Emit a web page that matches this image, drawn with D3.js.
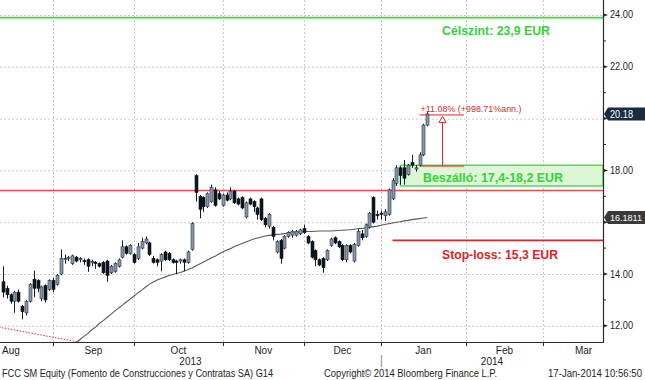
<!DOCTYPE html>
<html><head><meta charset="utf-8">
<script src="https://cdn.jsdelivr.net/npm/d3@7"></script>
<style>
html,body{margin:0;padding:0;background:#fff;}
svg{display:block;font-family:"Liberation Sans",Arial,sans-serif;}
</style></head><body>
<svg id="chart" width="645" height="380"></svg>
<script>
// ---------------- DATA ----------------
const firstCandleDate = "2013-08-13";
const openP = [13.7,13.45,13.2,12.95,13.3,12.75,12.5,12.95,13.8,13.75,
13.05,13.55,13.4,13.75,13.6,14.0,14.55,14.6,14.4,14.65,
14.55,14.52,14.55,14.45,14.45,14.4,14.45,14.5,14.05,14.1,
14.3,14.65,15.05,14.8,14.75,14.6,15.0,15.2,15.2,14.6,
14.55,14.5,14.85,14.8,14.55,14.5,14.5,14.55,14.45,14.95,
17.8,17.0,16.95,16.6,16.8,17.25,17.1,16.65,17.05,16.9,
17.2,16.9,16.95,16.2,16.9,16.8,16.55,16.9,16.15,15.85,
15.8,14.85,15.3,15.0,15.45,15.5,15.5,15.55,15.75,15.45,
15.25,14.9,14.55,14.6,14.55,15.1,15.4,15.25,15.1,14.55,
15.1,14.5,15.1,15.55,15.45,15.8,16.95,16.3,16.35,16.25,
16.3,16.9,17.5,18.1,18.1,17.85,18.3,18.05,18.2,18.6,19.75];
const highP = [14.3,13.55,13.25,13.35,13.4,12.8,13.0,13.65,14.13,13.8,
13.55,13.6,13.8,13.85,14.0,14.95,14.75,14.7,14.75,14.7,
14.65,14.6,14.6,14.55,14.5,14.45,14.5,14.55,14.35,14.45,
14.6,15.3,15.1,15.15,14.8,15.2,15.4,15.45,15.25,14.7,
14.6,14.8,14.9,14.85,14.6,14.55,14.6,14.6,14.9,16.0,
17.85,17.05,17.0,17.15,17.45,17.35,17.2,17.1,17.15,17.35,
17.25,16.95,17.0,16.8,16.95,16.85,16.6,16.95,16.2,16.35,
15.85,15.3,15.35,15.5,15.65,15.7,15.7,15.75,15.9,15.5,
15.3,14.95,14.6,14.65,14.95,15.4,15.45,15.3,15.15,15.15,
15.15,15.2,15.75,15.7,15.95,16.4,17.0,16.45,16.45,16.5,
17.3,17.7,18.2,18.15,18.4,18.25,18.6,18.2,18.7,19.8,20.25];
const lowP = [13.1,13.05,12.85,12.5,12.9,12.25,12.4,12.9,13.1,13.3,
12.95,12.9,13.35,13.3,13.55,13.95,14.4,14.5,14.35,14.45,
14.45,14.35,14.08,14.3,14.2,14.25,14.0,13.7,14.0,14.05,
14.25,14.6,14.75,14.75,14.4,14.55,14.95,15.15,14.7,14.4,
14.3,14.1,14.5,14.5,14.4,14.0,14.4,14.1,14.4,14.9,
16.8,16.15,16.4,16.55,16.75,16.6,16.85,16.6,16.8,16.85,
16.7,16.65,16.5,16.15,16.65,16.4,16.1,16.05,15.8,15.75,
15.3,14.8,14.4,14.95,15.4,15.4,15.45,15.5,15.55,15.15,
14.6,14.3,14.3,14.05,14.5,15.05,15.15,15.0,14.5,14.45,
14.8,14.45,15.05,15.3,15.4,15.75,15.95,16.1,16.1,16.05,
16.25,16.85,17.4,17.45,17.45,17.8,18.1,17.95,18.15,18.55,19.7];
const closeP = [13.3,13.2,12.95,13.3,12.95,12.55,12.95,13.6,13.45,13.45,
13.5,13.0,13.75,13.4,13.95,14.6,14.6,14.65,14.7,14.5,
14.6,14.5,14.3,14.48,14.4,14.3,14.05,13.95,14.3,14.4,
14.55,15.05,14.8,15.1,14.45,15.05,15.25,15.35,14.75,14.45,
14.45,14.75,14.55,14.55,14.45,14.45,14.55,14.45,14.85,15.95,
17.15,16.5,16.6,17.1,17.35,16.65,16.9,17.05,16.85,17.2,
16.75,16.7,16.55,16.75,16.7,16.6,16.3,16.1,15.9,16.3,
15.45,15.25,14.6,15.45,15.6,15.65,15.65,15.7,15.6,15.2,
14.65,14.55,14.35,14.25,14.9,15.35,15.2,15.05,14.55,15.1,
14.85,15.15,15.65,15.4,15.9,16.35,16.0,16.25,16.3,16.4,
17.25,17.6,18.1,17.8,17.7,18.2,18.2,18.1,18.6,19.75,20.18];

const maStartDate = "2013-09-09";
const maValues = [11.35,11.47,11.59,11.70,11.84,11.95,12.09,12.20,12.32,12.44,
12.57,12.69,12.80,12.92,13.03,13.15,13.27,13.38,13.50,13.61,
13.69,13.77,13.83,13.88,13.94,13.98,14.02,14.06,14.12,14.17,
14.23,14.31,14.39,14.46,14.54,14.62,14.69,14.77,14.85,14.93,
14.98,15.06,15.12,15.18,15.24,15.29,15.35,15.39,15.43,15.47,
15.49,15.51,15.53,15.54,15.56,15.58,15.60,15.61,15.62,15.63,
15.64,15.64,15.65,15.66,15.66,15.66,15.66,15.67,15.68,15.69,
15.70,15.71,15.73,15.75,15.76,15.78,15.81,15.83,15.85,15.88,
15.91,15.94,15.97,16.00,16.02,16.05,16.07,16.10,16.12,16.14,
16.16,16.18];

const trendDates = ["2013-08-12","2013-09-10"];
const trendValues = [11.95,11.36];

const yTicksMajor = [12,14,16,18,20,22,24];
const yTicksMinor = [13,15,17,19,21,23];
const monthNames = ["Aug","Sep","Oct","Nov","Dec","Jan","Feb","Mar","Apr"];
const monthStarts = ["2013-08","2013-09","2013-10","2013-11","2013-12","2014-01","2014-02","2014-03","2014-04"];
const yearLabels = ["2013","2014"];
const holidays = ["2013-12-25","2013-12-26","2014-01-01"];

const targetLevel = 23.9;
const entryLow = 17.4, entryHigh = 18.2;
const stopLevel = 15.3;
const resistanceLevel = 17.22;
const lastPrice = 20.18;
const maLast = 16.1811;
const gainPct = 11.08, gainAnn = 998.71;
const boxStartDate = "2014-01-08";
const stopStartDate = "2014-01-06";
const annStartDate = "2014-01-15";
const annEndDate = "2014-01-30";

const labelTarget = "Célszint: 23,9 EUR";
const labelEntry = "Beszálló: 17,4-18,2 EUR";
const labelStop = "Stop-loss: 15,3 EUR";
const footerLeft = "FCC SM Equity (Fomento de Construcciones y Contratas SA) G14";
const footerMid = "Copyright\u00a9 2014 Bloomberg Finance L.P.";
const footerRight = "17-Jan-2014 10:56:50";

// ---------------- TRADING CALENDAR ----------------
const fmt = d3.utcFormat("%Y-%m-%d");
const days = d3.utcDay.range(new Date(Date.UTC(2013,7,1)), new Date(Date.UTC(2014,4,1)))
  .filter(d => d.getUTCDay() !== 0 && d.getUTCDay() !== 6 && !holidays.includes(fmt(d)))
  .map(fmt);
const idxOf = s => days.indexOf(s);

// ---------------- LAYOUT ----------------
const W = 645, H = 380;
const plotL = 0, plotR = 603, plotT = 0, plotB = 342;
const sepIdx = idxOf("2013-09-02") - 1, marIdx = idxOf("2014-03-03") - 1;
const x = d3.scaleLinear().domain([sepIdx, marIdx]).range([53, 543]);
const y = d3.scaleLinear().domain([11.375, 24.579]).range([plotB, plotT]);

const svg = d3.select("#chart");
svg.append("defs").append("clipPath").attr("id","clip")
  .append("rect").attr("x",plotL).attr("y",plotT).attr("width",plotR-plotL).attr("height",plotB-plotT);

const grid = svg.append("g");
const monthTickIdx = monthStarts.map(m => days.findIndex(d => d.startsWith(m)) - 1);
grid.selectAll("line.h").data(yTicksMajor).join("line")
  .attr("x1",plotL).attr("x2",plotR).attr("y1",d=>y(d)+0.5).attr("y2",d=>y(d)+0.5)
  .attr("stroke","#c9c9c9").attr("stroke-dasharray","2,2");
grid.selectAll("line.v").data(monthTickIdx.filter(i => x(i) > 2 && x(i) < plotR)).join("line")
  .attr("x1",d=>Math.round(x(d))+0.5).attr("x2",d=>Math.round(x(d))+0.5).attr("y1",plotT).attr("y2",plotB)
  .attr("stroke","#c9c9c9").attr("stroke-dasharray","2,2");

const plot = svg.append("g").attr("clip-path","url(#clip)");

plot.append("rect")
  .attr("x", x(idxOf(boxStartDate))).attr("y", y(entryHigh))
  .attr("width", plotR - x(idxOf(boxStartDate))).attr("height", y(entryLow)-y(entryHigh))
  .attr("fill","#dcf7d6").attr("stroke","#3fd43f").attr("stroke-width",1.3);

plot.append("line").attr("x1",plotL).attr("x2",plotR).attr("y1",y(targetLevel)).attr("y2",y(targetLevel))
  .attr("stroke","#3cd83c").attr("stroke-width",1.6);
plot.append("line").attr("x1",plotL).attr("x2",plotR).attr("y1",y(resistanceLevel)).attr("y2",y(resistanceLevel))
  .attr("stroke","#ee4a4a").attr("stroke-width",1.5);
plot.append("line").attr("x1",x(idxOf(stopStartDate))).attr("x2",plotR).attr("y1",y(stopLevel)).attr("y2",y(stopLevel))
  .attr("stroke","#d42a2a").attr("stroke-width",1.8);

plot.append("path")
  .attr("d", d3.line()(trendDates.map((d,i)=>[x(idxOf(d)), y(trendValues[i])])))
  .attr("stroke","#e03030").attr("stroke-width",1).attr("stroke-dasharray","1.5,1.5").attr("fill","none");

const ma0 = idxOf(maStartDate);
plot.append("path")
  .attr("d", d3.line()(maValues.map((v,i)=>[x(ma0+i), y(v)])))
  .attr("stroke","#5a5a5a").attr("stroke-width",1.1).attr("fill","none");

const c0 = idxOf(firstCandleDate);
const candles = openP.map((o,i)=>({i:c0+i,o,h:highP[i],l:lowP[i],c:closeP[i]}));
const cg = plot.append("g");
cg.selectAll("line.w").data(candles).join("line")
  .attr("x1",d=>Math.round(x(d.i))+0.5).attr("x2",d=>Math.round(x(d.i))+0.5)
  .attr("y1",d=>y(d.h)).attr("y2",d=>y(d.l)).attr("stroke","#141c26").attr("stroke-width",1);
cg.selectAll("rect").data(candles).join("rect")
  .attr("x",d=>Math.round(x(d.i))-1).attr("width",3)
  .attr("y",d=>y(Math.max(d.o,d.c))).attr("height",d=>Math.max(1.2, Math.abs(y(d.o)-y(d.c))))
  .attr("fill",d=>d.c>=d.o ? "#8796aa" : "#0e151d")
  .attr("stroke",d=>d.c>=d.o ? "#2c3744" : "#0e151d").attr("stroke-width",0.6);

// annotation
const aX1 = x(idxOf(annStartDate)), aX2 = x(idxOf(annEndDate)) + 2;
const aTop = y(lastPrice), aBot = y(lastPrice/(1+gainPct/100));
const ann = svg.append("g").attr("stroke","#e02828").attr("fill","none");
ann.append("line").attr("x1",aX1).attr("x2",aX2).attr("y1",aTop+1).attr("y2",aTop+1);
ann.append("line").attr("x1",aX1).attr("x2",aX2).attr("y1",aBot).attr("y2",aBot);
const aMid = Math.round((aX1+aX2)/2)+0.5;
ann.append("line").attr("x1",aMid).attr("x2",aMid).attr("y1",aBot).attr("y2",aTop+8);
ann.append("path").attr("d",`M${aMid},${aTop+2.5}L${aMid-3.5},${aTop+8.5}L${aMid+3.5},${aTop+8.5}Z`)
  .attr("fill","#fff");
svg.append("text").attr("x",aX1+1).attr("y",aTop-1.5).attr("fill","#e02828")
  .attr("font-size",9).attr("textLength",101).attr("lengthAdjust","spacingAndGlyphs")
  .text(`+${gainPct.toFixed(2)}% (+${gainAnn.toFixed(2)}%ann.)`);

const bigLabel = (t, cx, yy, col, len) => svg.append("text").attr("x",cx).attr("y",yy)
  .attr("text-anchor","middle").attr("font-weight","bold").attr("font-size",13.5)
  .attr("fill",col).attr("textLength",len).attr("lengthAdjust","spacingAndGlyphs").text(t);
bigLabel(labelTarget, 496, y(targetLevel)+17.5, "#3ccf3c", 108);
bigLabel(labelEntry, 493, y(entryLow)-4, "#3ccf3c", 140);
bigLabel(labelStop, 500, y(stopLevel)+19, "#dc2424", 116);

// axes
const axG = svg.append("g");
axG.append("line").attr("x1",plotR+0.5).attr("x2",plotR+0.5).attr("y1",plotT).attr("y2",plotB+1).attr("stroke","#2a2a2a").attr("stroke-width",1.2);
axG.append("line").attr("x1",plotL).attr("x2",plotR+1).attr("y1",plotB+0.5).attr("y2",plotB+0.5).attr("stroke","#2a2a2a").attr("stroke-width",1.2);
axG.selectAll("path.mt").data(yTicksMajor).join("path")
  .attr("d",d=>`M${plotR+1},${y(d)-1.5}L${plotR+5},${y(d)}L${plotR+1},${y(d)+1.5}Z`).attr("fill","#2a2a2a");
axG.selectAll("line.mn").data(yTicksMinor).join("line")
  .attr("x1",plotR+1).attr("x2",plotR+3).attr("y1",d=>y(d)).attr("y2",d=>y(d)).attr("stroke","#2a2a2a");
const tagVals = [lastPrice, maLast];
axG.selectAll("text.yl").data(yTicksMajor.filter(d => tagVals.every(t => Math.abs(y(d)-y(t)) > 12))).join("text")
  .attr("x",plotR+7).attr("y",d=>y(d)+3.5).attr("font-size",10).attr("fill","#1e1e1e")
  .attr("textLength",23).attr("lengthAdjust","spacingAndGlyphs").text(d=>d.toFixed(2));
axG.selectAll("line.xt").data(monthTickIdx.filter(i=>x(i)>0 && x(i)<plotR)).join("line")
  .attr("x1",d=>Math.round(x(d))+0.5).attr("x2",d=>Math.round(x(d))+0.5).attr("y1",plotB).attr("y2",plotB+4)
  .attr("stroke","#2a2a2a");
const monthCenters = monthNames.slice(0,-1).map((m,k)=>({m, cx:(x(monthTickIdx[k])+x(monthTickIdx[k+1]))/2}));
axG.selectAll("text.ml").data(monthCenters).join("text")
  .attr("x",d=>Math.max(d.cx, 11)).attr("y",354).attr("text-anchor","middle").attr("font-size",10).attr("fill","#1e1e1e")
  .text(d=>d.m);
const janX = x(monthTickIdx[5]);
axG.append("text").attr("x",(plotL+janX)/2).attr("y",365).attr("text-anchor","middle").attr("font-size",10).attr("fill","#1e1e1e").text(yearLabels[0]);
axG.append("text").attr("x",(janX+plotR)/2).attr("y",365).attr("text-anchor","middle").attr("font-size",10).attr("fill","#1e1e1e").text(yearLabels[1]);
axG.append("line").attr("x1",Math.round(janX)+0.5).attr("x2",Math.round(janX)+0.5).attr("y1",355).attr("y2",367).attr("stroke","#a9a9a9").attr("stroke-width",1.5);

// value tags
function tag(v, col, txt, len, fs){
  const yc = y(v);
  svg.append("path").attr("d",`M${plotR+1},${yc}L${plotR+5},${yc-6.5}L${W},${yc-6.5}L${W},${yc+6.5}L${plotR+5},${yc+6.5}Z`).attr("fill",col);
  svg.append("text").attr("x",plotR+7).attr("y",yc+3.6).attr("font-size",fs).attr("fill","#fff")
    .attr("textLength",len).attr("lengthAdjust","spacingAndGlyphs").text(txt);
}
tag(lastPrice, "#1b2b40", lastPrice.toFixed(2), 23, 10.5);
tag(maLast, "#3a3a3a", String(maLast), 32, 9.2);

const foot = (t, xx, len) => svg.append("text").attr("x",xx).attr("y",376.5).attr("font-size",10)
  .attr("fill","#1e1e1e").attr("textLength",len).attr("lengthAdjust","spacingAndGlyphs").text(t);
foot(footerLeft, 2, 271);
foot(footerMid, 324, 173);
foot(footerRight, 548, 94);
</script>
</body></html>
